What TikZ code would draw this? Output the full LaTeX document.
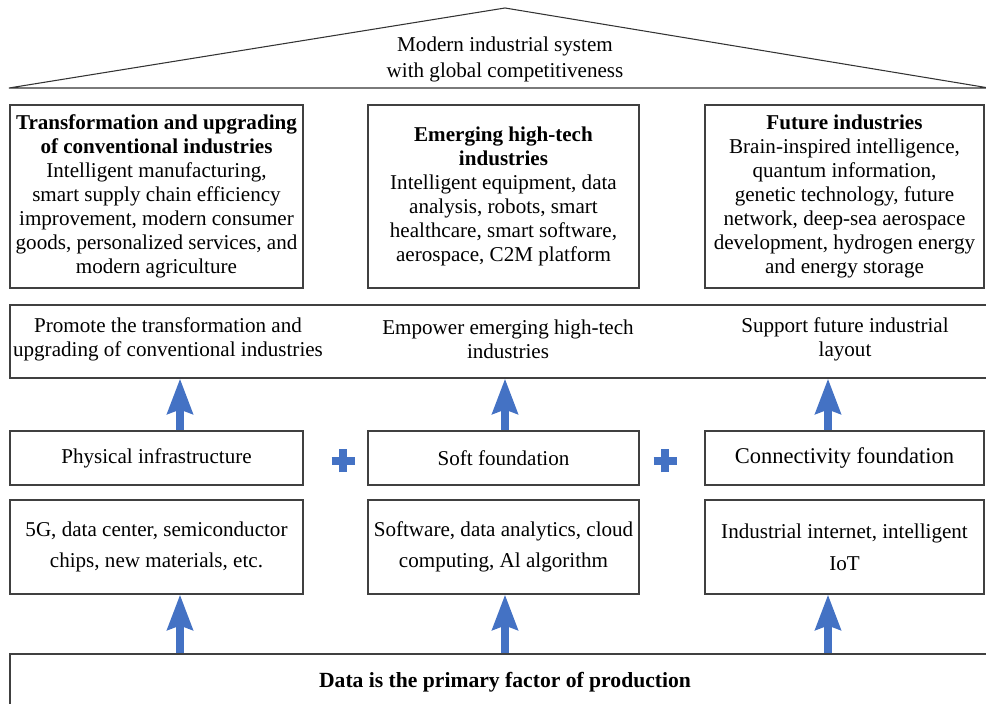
\documentclass[tikz,border=0pt]{standalone}
\usepackage{fontspec}
\setmainfont{Liberation Serif}
\usetikzlibrary{arrows.meta,positioning}
\definecolor{arrowblue}{RGB}{68,114,196}

\begin{document}
\begin{tikzpicture}[
    box/.style={draw=black!75,line width=0.6pt,align=center,inner sep=2pt,font=\fontsize{12}{13.6}\selectfont},
    topbox/.style={box,minimum height=3.66cm},
    midbox/.style={box,minimum height=1.08cm},
    lowbox/.style={box,minimum height=1.88cm,font=\fontsize{12}{18}\selectfont},
    txt/.style={align=center,inner sep=0pt,font=\fontsize{12}{13.6}\selectfont},
    uparrow/.style={draw=arrowblue,line width=0.16cm,-{Stealth[length=0.7cm,width=0.5cm,inset=0.08cm]}},
    plussign/.style={draw=arrowblue,line width=0.16cm},
    roof/.style={draw=black!80,line width=0.6pt}]
    \useasboundingbox (0,0) rectangle (19.72,14.06);

    % roof
    \coordinate (roofL) at (0.18,12.3);
    \coordinate (apex) at (10.1,13.9);
    \coordinate (roofR) at (19.78,12.3);
    \draw[roof] (roofL) -- (apex) -- (roofR) (roofL) -- (roofR);
    \node[txt,font=\fontsize{12}{14.8}\selectfont] (system) at (10.1,12.88) {Modern industrial system\\with global competitiveness};

    % industries
    \node[topbox,minimum width=5.86cm] (conv) at (3.13,10.13) {\textbf{Transformation and upgrading}\\\textbf{of conventional industries}\\Intelligent manufacturing,\\smart supply chain efficiency\\improvement, modern consumer\\goods, personalized services, and\\modern agriculture};
    \node[topbox,minimum width=5.42cm] (emerging) at (10.07,10.13) {\textbf{Emerging high-tech}\\\textbf{industries}\\Intelligent equipment, data\\analysis, robots, smart\\healthcare, smart software,\\aerospace, C2M platform};
    \node[topbox,minimum width=5.58cm] (future) at (16.89,10.13) {\textbf{Future industries}\\Brain-inspired intelligence,\\quantum information,\\genetic technology, future\\network, deep-sea aerospace\\development, hydrogen energy\\and energy storage};

    \node[box,minimum width=19.56cm,minimum height=1.46cm] (promote) at (9.98,7.23) {};
    \node[txt] (promote1) at (3.36,7.28) {Promote the transformation and\\upgrading of conventional industries};
    \node[txt] (promote2) at (10.16,7.28) {Empower emerging high-tech\\industries};
    \node[txt] (promote3) at (16.9,7.28) {Support future industrial\\layout};

    % foundations
    \node[midbox,minimum width=5.86cm] (phys) at (3.13,4.9) {Physical infrastructure};
    \node[midbox,minimum width=5.42cm] (soft) at (10.07,4.9) {Soft foundation};
    \node[midbox,minimum width=5.58cm,font=\fontsize{12.8}{14}\selectfont] (conn) at (16.89,4.9) {Connectivity foundation};

    \node[lowbox,minimum width=5.86cm] (chips) at (3.13,3.12) {5G, data center, semiconductor\\chips, new materials, etc.};
    \node[lowbox,minimum width=5.42cm] (algo) at (10.07,3.12) {Software, data analytics, cloud\\computing, Al algorithm};
    \node[lowbox,minimum width=5.58cm] (iot) at (16.89,3.12) {Industrial internet, intelligent\\IoT};

    \node[box,minimum width=19.8cm,minimum height=1.12cm,font=\fontsize{12.3}{14}\selectfont\bfseries] (data) at (10.1,0.42) {Data is the primary factor of production};

    % arrows
    \coordinate (c1) at (3.6,0);
    \coordinate (c2) at (10.1,0);
    \coordinate (c3) at (16.56,0);
    \draw[uparrow] (phys.north -| c1) -- (promote.south -| c1);
    \draw[uparrow] (soft.north -| c2) -- (promote.south -| c2);
    \draw[uparrow] (conn.north -| c3) -- (promote.south -| c3);
    \draw[uparrow] (data.north -| c1) -- (chips.south -| c1);
    \draw[uparrow] (data.north -| c2) -- (algo.south -| c2);
    \draw[uparrow] (data.north -| c3) -- (iot.south -| c3);

    % plus signs
    \coordinate (p1) at (6.86,4.84);
    \coordinate (p2) at (13.3,4.84);
    \draw[plussign] (p1) +(-0.23,0) -- +(0.23,0) (p1) +(0,-0.23) -- +(0,0.23);
    \draw[plussign] (p2) +(-0.23,0) -- +(0.23,0) (p2) +(0,-0.23) -- +(0,0.23);
\end{tikzpicture}
\end{document}
